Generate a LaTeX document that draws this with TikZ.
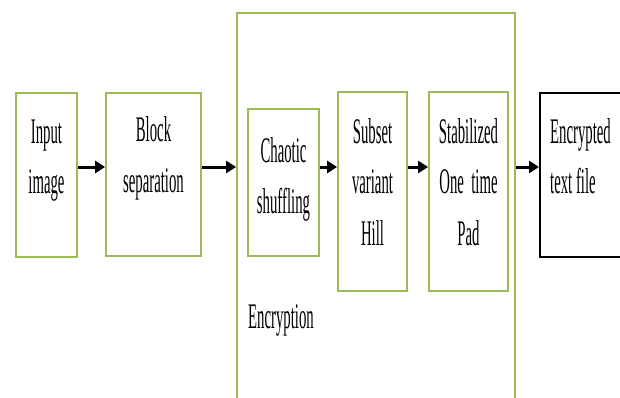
\documentclass[tikz,border=0pt]{standalone}
\usepackage{fontspec}
\usetikzlibrary{arrows.meta}
\newfontfamily\condserif[FakeStretch=0.41]{Liberation Serif}
\definecolor{boxgreen}{HTML}{9BBB59}
\begin{document}
\begin{tikzpicture}[x=1pt,y=-1pt,
  stagebox/.style={draw=boxgreen,line width=1.8pt,rectangle,inner sep=0pt},
  outbox/.style={draw=black,line width=2pt,rectangle,inner sep=0pt},
  lbl/.style={inner sep=0pt,anchor=base,font=\condserif\fontsize{36}{51}\selectfont},
  flow/.style={line width=3pt,-{Triangle[length=10pt,width=12pt]}}]
\useasboundingbox (0,0) rectangle (620,398);
\coordinate (ay) at (0,167);

% boxes
\node[stagebox,minimum width=278pt,minimum height=397pt] (enc) at (376,211.5) {};
\node[stagebox,minimum width=61pt,minimum height=164pt] (inp) at (46.5,175) {};
\node[stagebox,minimum width=95pt,minimum height=163pt] (blk) at (153.5,174.5) {};
\node[stagebox,minimum width=71pt,minimum height=147pt] (chs) at (283.5,182.5) {};
\node[stagebox,minimum width=69pt,minimum height=199pt] (hil) at (372.5,191.5) {};
\node[stagebox,minimum width=79pt,minimum height=199pt] (otp) at (468.5,191.5) {};
\node[outbox,minimum width=110pt,minimum height=164pt] (out) at (595,175) {};

% texts
\node[lbl] (tinp) at (46.5,143) {\begin{tabular}[t]{@{}c@{}}Input\\image\end{tabular}};
\node[lbl] (tblk) at (153.5,142) {\begin{tabular}[t]{@{}c@{}}Block\\separation\end{tabular}};
\node[lbl] (tchs) at (283.5,163) {\begin{tabular}[t]{@{}c@{}}Chaotic\\shuffling\end{tabular}};
\node[lbl] (thil) at (372.5,143) {\begin{tabular}[t]{@{}c@{}}Subset\\variant\\Hill\end{tabular}};
\node[lbl] (totp) at (468.5,143) {\begin{tabular}[t]{@{}c@{}}Stabilized\\One\ \ time\\Pad\end{tabular}};
\node[lbl,anchor=base west] (tout) at (550,143) {\begin{tabular}[t]{@{}l@{}}Encrypted\\text file\end{tabular}};
\node[lbl,anchor=base west] (tenc) at (248,328) {Encryption};

% connectors
\draw[flow] (inp.east |- ay) -- (blk.west |- ay);
\draw[flow] (blk.east |- ay) -- (enc.west |- ay);
\draw[flow] (chs.east |- ay) -- (hil.west |- ay);
\draw[flow] (hil.east |- ay) -- (otp.west |- ay);
\draw[flow] (enc.east |- ay) -- (out.west |- ay);
\end{tikzpicture}
\end{document}
